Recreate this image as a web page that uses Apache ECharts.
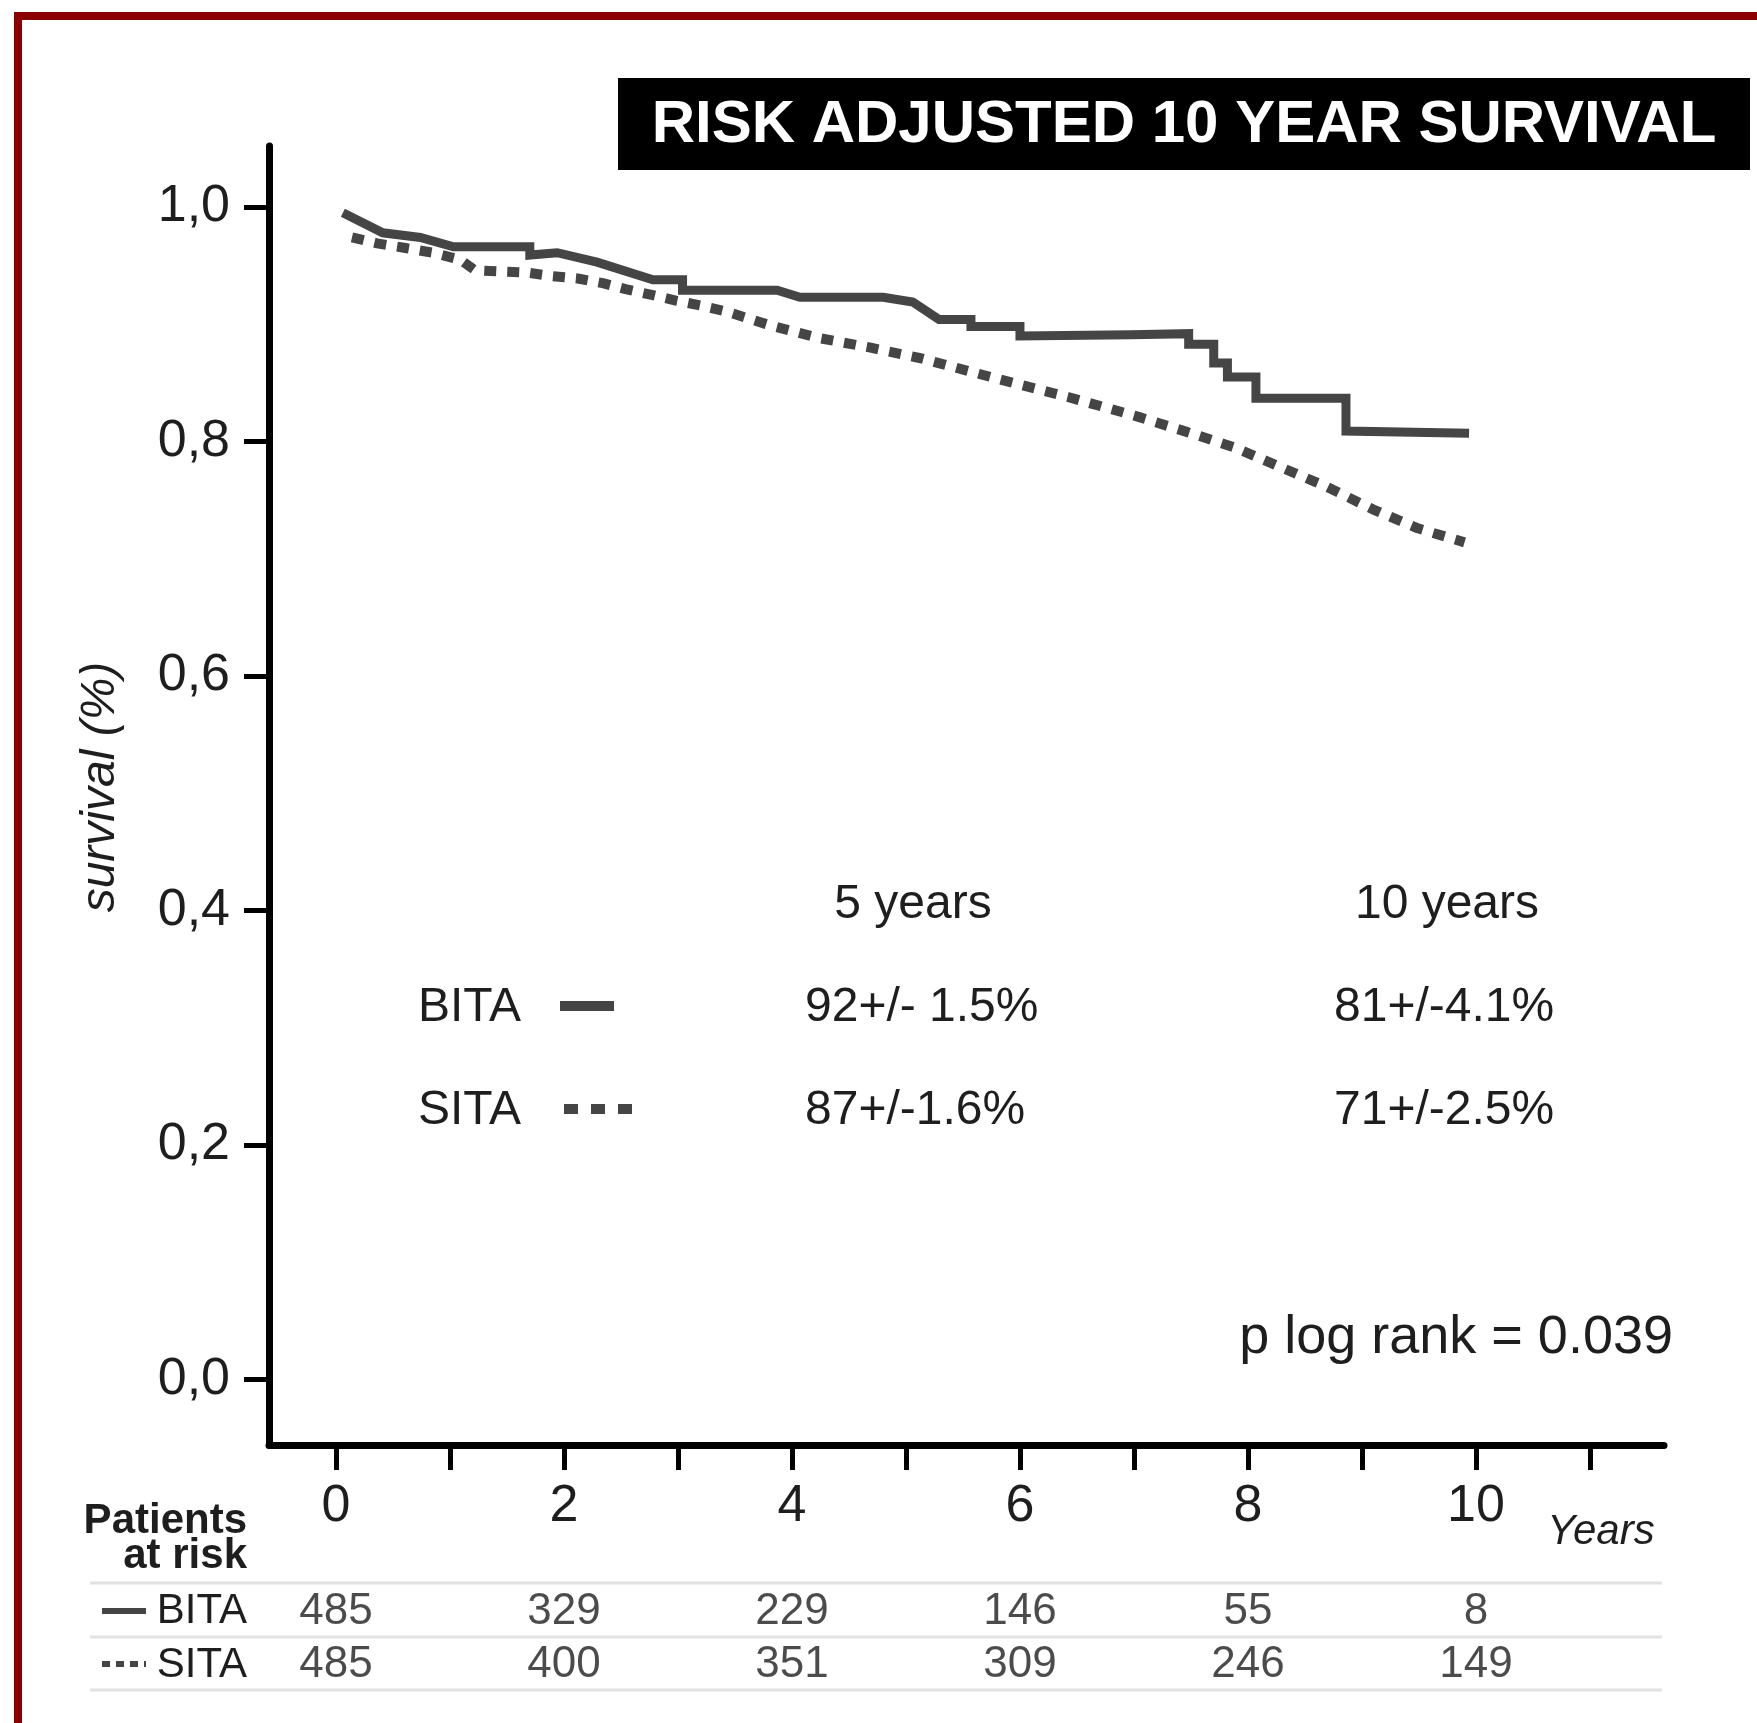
<!DOCTYPE html>
<html>
<head>
<meta charset="utf-8">
<script src="https://cdn.jsdelivr.net/npm/echarts@6/dist/echarts.min.js"></script>
<style>
html,body{margin:0;padding:0;background:#fff;}
#chart{width:1757px;height:1723px;}
</style>
</head>
<body>
<div id="chart"></div>
<script>
// ---- data ----
const bitaYears = [0.06,0.41,0.74,1.03,1.70,1.70,1.94,2.29,2.78,3.04,3.04,3.87,4.07,4.80,5.06,5.29,5.57,5.57,6.00,6.00,6.97,7.48,7.48,7.70,7.70,7.82,7.82,8.07,8.07,8.86,8.86,9.94];
const bitaSurv  = [0.995,0.978,0.974,0.966,0.966,0.959,0.961,0.953,0.938,0.938,0.929,0.929,0.923,0.923,0.919,0.904,0.904,0.898,0.898,0.890,0.891,0.892,0.883,0.883,0.867,0.867,0.855,0.855,0.837,0.837,0.809,0.807];
const sitaYears = [0.14,0.36,0.61,0.85,1.09,1.22,1.44,1.68,1.90,2.12,2.34,2.54,2.77,2.99,3.20,3.42,3.81,4.25,4.69,5.13,5.55,5.98,6.42,6.86,7.04,7.47,7.88,8.29,8.70,9.10,9.49,9.90];
const sitaSurv  = [0.974,0.969,0.965,0.961,0.955,0.946,0.945,0.944,0.941,0.939,0.935,0.930,0.925,0.920,0.916,0.911,0.899,0.888,0.880,0.871,0.860,0.849,0.838,0.826,0.821,0.808,0.795,0.778,0.761,0.742,0.726,0.714];
const riskYears = [0,2,4,6,8,10];
const bitaAtRisk = [485,329,229,146,55,8];
const sitaAtRisk = [485,400,351,309,246,149];
const xTicks = [0,1,2,3,4,5,6,7,8,9,10,11];
const xTickLabels = [0,2,4,6,8,10];
const yTicks = [0,0.2,0.4,0.6,0.8,1.0];
const groups = ['BITA','SITA'];
const titleText = 'RISK ADJUSTED 10 YEAR SURVIVAL';
const statRows = [
  {name:'BITA', five:'92+/- 1.5%', ten:'81+/-4.1%'},
  {name:'SITA', five:'87+/-1.6%', ten:'71+/-2.5%'}
];
const pText = 'p log rank = 0.039';

// ---- build ----
const FF = "'Liberation Sans', Arial, Helvetica, sans-serif";
const TXT = '#1e1e1e';
const CURVE = '#454545';
const XMIN = -0.588, XMAX = 11.65, YMIN = -0.0557, YMAX = 1.052;

const zip = (a,b) => a.map((v,i)=>[v,b[i]]);

function txt(x,y,text,size,opts){
  opts = opts || {};
  return {type:'text', x:x, y:y, rotation:opts.rotation||0, z:10,
    style:{text:text, fill:opts.fill||TXT, fontSize:size, fontFamily:FF,
      fontWeight:opts.weight||'normal', fontStyle:opts.style||'normal',
      textAlign:opts.align||'center', textVerticalAlign:'middle'}};
}
function ln(x1,y1,x2,y2,color,w,dash){
  return {type:'line', z:10, shape:{x1:x1,y1:y1,x2:x2,y2:y2},
    style:{stroke:color, lineWidth:w, lineDash:dash||null, lineCap:'butt'}};
}

const graphics = [
  // red frame
  ln(18,12,18,1723,'#8B0000',8),
  ln(14,16,1757,16,'#8B0000',8),
  // title box
  {type:'rect', z:9, shape:{x:618,y:78,width:1132,height:92}, style:{fill:'#000'}},
  txt(1184,125,titleText,60,{fill:'#fff',weight:'bold'}),
  // axis names
  txt(101,787,'survival (%)',48,{style:'italic',rotation:Math.PI/2}),
  txt(1601,1532,'Years',42,{style:'italic'}),
  // stats block
  txt(913,905,'5 years',48),
  txt(1447,905,'10 years',48),
  txt(418,1008,statRows[0].name,48,{align:'left'}),
  ln(560,1006,614,1006,CURVE,10),
  txt(805,1008,statRows[0].five,48,{align:'left'}),
  txt(1334,1008,statRows[0].ten,48,{align:'left'}),
  txt(418,1111,statRows[1].name,48,{align:'left'}),
  ln(564,1109,633,1109,CURVE,10,[14,13]),
  txt(805,1111,statRows[1].five,48,{align:'left'}),
  txt(1334,1111,statRows[1].ten,48,{align:'left'}),
  txt(1673,1338,pText,54,{align:'right'}),
  // patients at risk
  txt(247,1521,'Patients',42,{align:'right',weight:'bold'}),
  txt(247,1556,'at risk',42,{align:'right',weight:'bold'}),
  ln(90,1583,1662,1583,'#e2e2e2',3),
  ln(90,1637,1662,1637,'#e2e2e2',3),
  ln(90,1690,1662,1690,'#e2e2e2',3),
  ln(102,1611,146,1611,CURVE,6),
  ln(102,1664,146,1664,CURVE,6,[8,6])
];

const riskSeries = (arr,name) => ({
  type:'scatter', xAxisIndex:1, yAxisIndex:1, symbolSize:1,
  itemStyle:{color:'rgba(0,0,0,0)'}, silent:true,
  data: riskYears.map((y,i)=>[y,name,arr[i]]),
  label:{show:true, position:'inside', formatter:p=>String(p.value[2]),
    fontSize:44, fontFamily:FF, color:TXT}
});

const option = {
  backgroundColor:'#fff',
  animation:false,
  grid:[
    {left:269, right:93, top:146, bottom:278},
    {left:269, right:93, top:1585, height:107}
  ],
  xAxis:[
    {type:'value', gridIndex:0, min:XMIN, max:XMAX,
     axisLine:{onZero:false, lineStyle:{color:'#000', width:7}},
     axisTick:{customValues:xTicks, length:25, lineStyle:{color:'#000', width:5}},
     axisLabel:{customValues:xTickLabels, fontSize:52, fontFamily:FF, color:TXT, margin:36},
     splitLine:{show:false}},
    {type:'value', gridIndex:1, min:XMIN, max:XMAX, show:false}
  ],
  yAxis:[
    {type:'value', gridIndex:0, min:YMIN, max:YMAX,
     axisLine:{show:true, onZero:false, lineStyle:{color:'#000', width:7}},
     axisTick:{show:true, customValues:yTicks, length:25, lineStyle:{color:'#000', width:5}},
     axisLabel:{customValues:yTicks, fontSize:52, fontFamily:FF, color:TXT, margin:39,
       formatter:v=>v.toFixed(1).replace('.',',')},
     splitLine:{show:false}},
    {type:'category', gridIndex:1, data:groups, inverse:true,
     axisLine:{show:false}, axisTick:{show:false},
     axisLabel:{interval:0, hideOverlap:false, fontSize:42, fontFamily:FF, color:TXT, margin:22}}
  ],
  series:[
    {name:'BITA', type:'line', data:zip(bitaYears,bitaSurv), showSymbol:false, silent:true,
     lineStyle:{color:CURVE, width:9, cap:'butt', join:'miter'}},
    {name:'SITA', type:'line', data:zip(sitaYears,sitaSurv), showSymbol:false, silent:true,
     lineStyle:{color:CURVE, width:10, type:[12,11], cap:'butt'}},
    riskSeries(bitaAtRisk,'BITA'),
    riskSeries(sitaAtRisk,'SITA')
  ],
  graphic:graphics
};

const chart = echarts.init(document.getElementById('chart'), null, {renderer:'canvas'});
chart.setOption(option);
</script>
</body>
</html>
